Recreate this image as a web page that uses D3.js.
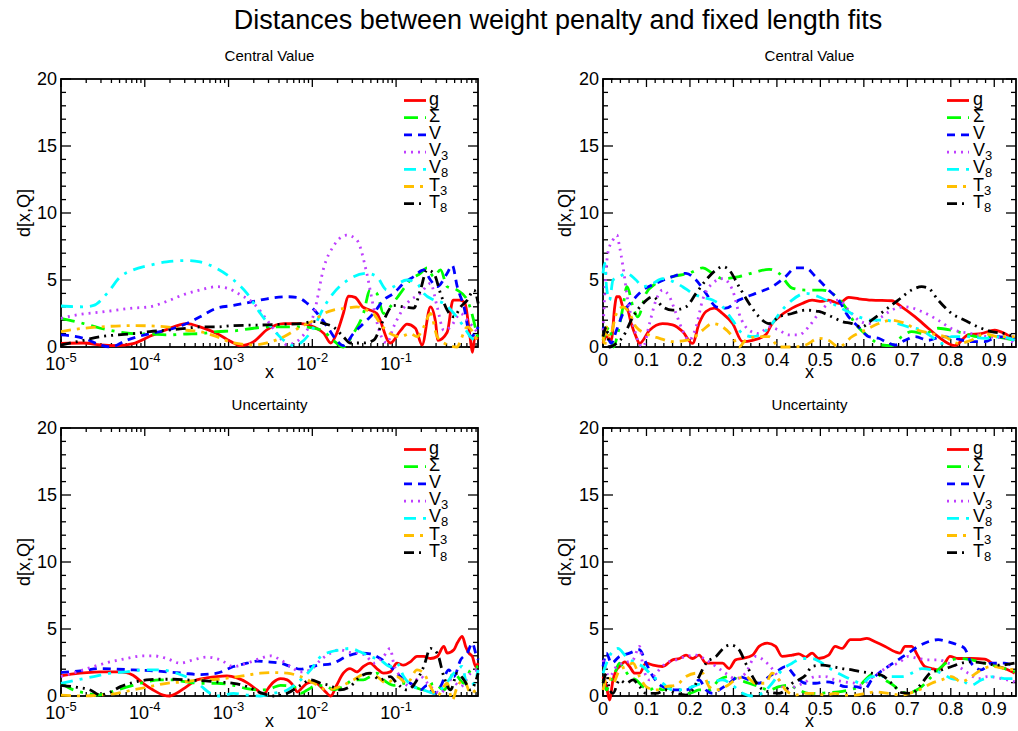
<!DOCTYPE html>
<html><head><meta charset="utf-8">
<script src="https://cdn.jsdelivr.net/npm/d3@7"></script>
<style>body{margin:0;background:#fff} text{font-family:"Liberation Sans",Arial,Helvetica,sans-serif;fill:#000}</style>
</head><body><svg id="c" width="1018" height="731"></svg>
<script>
// ---------------- DATA ----------------
const mainTitle = "Distances between weight penalty and fixed length fits";
const panelTitles = ["Central Value", "Central Value", "Uncertainty", "Uncertainty"];
const yTickValues = [0, 5, 10, 15, 20];
const yTickLabels = ["0", "5", "10", "15", "20"];
const logTickValues = [1e-5, 1e-4, 1e-3, 1e-2, 1e-1];
const logTickExps = ["-5", "-4", "-3", "-2", "-1"];
const linTickValues = [0, 0.1, 0.2, 0.3, 0.4, 0.5, 0.6, 0.7, 0.8, 0.9];
const linTickLabels = ["0", "0.1", "0.2", "0.3", "0.4", "0.5", "0.6", "0.7", "0.8", "0.9"];
const legendBase = ["g", "Σ", "V", "V", "V", "T", "T"];
const legendSub = ["", "", "", "3", "8", "3", "8"];
const seriesColors = ["#ff0000", "#00ff00", "#0000ff", "#bf3fff", "#00ffff", "#ffbf00", "#000000"];

// Central value, log x: [log10(x), d]
const cvLogG = [[-5,0.27],[-4.73,0.3],[-4.53,0.15],[-4.33,0.1],[-4.14,0.25],[-3.94,0.8],[-3.74,1.3],[-3.5,1.75],[-3.34,1.5],[-3.14,1.0],[-2.94,0.3],[-2.86,0.1],[-2.7,0.4],[-2.54,1.3],[-2.34,1.75],[-2.14,1.75],[-1.98,1.5],[-1.86,1.0],[-1.78,0.3],[-1.71,1.0],[-1.63,2.5],[-1.57,3.8],[-1.49,3.7],[-1.4,3.0],[-1.33,2.8],[-1.23,2.5],[-1.07,0.3],[-0.95,1.2],[-0.87,1.7],[-0.77,1.4],[-0.69,0.15],[-0.59,3.0],[-0.53,1.9],[-0.5,0.5],[-0.39,1.1],[-0.32,3.5],[-0.24,3.5],[-0.18,3.3],[-0.12,0.9],[-0.09,-0.4],[-0.06,0.7],[-0.02,0.6]];
const cvLogS = [[-5,2.14],[-4.73,1.75],[-4.53,1.4],[-4.33,1.15],[-4.14,1.0],[-3.94,0.97],[-3.74,0.9],[-3.5,0.97],[-3.34,1.0],[-3.14,1.15],[-2.94,1.2],[-2.7,1.4],[-2.54,1.5],[-2.14,1.5],[-1.98,1.4],[-1.86,1.15],[-1.75,0.5],[-1.63,0],[-1.51,1.0],[-1.39,2.5],[-1.31,4.25],[-1.23,4.0],[-1.15,2.5],[-1.07,3.0],[-0.95,4.0],[-0.83,5.0],[-0.71,5.5],[-0.63,5.9],[-0.55,5.25],[-0.47,5.75],[-0.39,4.5],[-0.27,4.25],[-0.15,3.5],[-0.02,0.5]];
const cvLogV = [[-5,0.9],[-4.73,0.65],[-4.53,0.15],[-4.41,0],[-4.22,0.5],[-3.94,1.0],[-3.74,1.25],[-3.5,1.75],[-3.34,2.25],[-3.14,2.9],[-2.94,3.1],[-2.7,3.4],[-2.54,3.6],[-2.3,3.75],[-2.18,3.7],[-2.06,3.25],[-1.94,2.5],[-1.82,1.5],[-1.71,0.5],[-1.63,0.1],[-1.51,1.0],[-1.39,1.75],[-1.27,2.5],[-1.15,3.5],[-1.03,4.0],[-0.91,4.75],[-0.79,5.25],[-0.67,5.75],[-0.59,5.0],[-0.51,4.5],[-0.39,5.5],[-0.33,6.1],[-0.27,4.5],[-0.19,3.0],[-0.11,0.75],[-0.02,1.5]];
const cvLogV3 = [[-5,2.14],[-4.81,2.4],[-4.53,2.6],[-4.14,2.9],[-3.94,3.0],[-3.74,3.4],[-3.54,3.9],[-3.34,4.25],[-3.14,4.5],[-3.02,4.4],[-2.86,3.9],[-2.7,3.25],[-2.54,2.0],[-2.42,1.0],[-2.3,0.15],[-2.22,0.3],[-2.14,0.65],[-1.98,2.5],[-1.86,6.0],[-1.75,7.5],[-1.59,8.35],[-1.47,8.0],[-1.35,5.5],[-1.27,3.0],[-1.19,1.0],[-1.11,0.3],[-1.03,1.5],[-0.95,2.5],[-0.87,3.25],[-0.71,4.0],[-0.59,4.75],[-0.51,3.0],[-0.43,1.25],[-0.35,1.5],[-0.23,2.5],[-0.15,2.0],[-0.02,1.0]];
const cvLogV8 = [[-5,3.06],[-4.73,3.0],[-4.61,3.1],[-4.45,4.0],[-4.29,5.25],[-4.14,5.75],[-3.94,6.1],[-3.74,6.35],[-3.5,6.45],[-3.34,6.35],[-3.14,5.85],[-2.94,5.0],[-2.78,4.0],[-2.62,2.5],[-2.46,1.25],[-2.34,0.5],[-2.22,0.1],[-2.14,0.3],[-1.98,1.5],[-1.86,3.0],[-1.75,4.0],[-1.55,5.1],[-1.35,5.5],[-1.23,5.25],[-1.11,4.25],[-1.03,4.5],[-0.87,5.0],[-0.75,4.75],[-0.67,4.0],[-0.55,3.5],[-0.43,3.25],[-0.31,2.5],[-0.19,1.5],[-0.11,0.75],[-0.02,0.4]];
const cvLogT3 = [[-5,1.15],[-4.73,1.4],[-4.53,1.5],[-4.14,1.6],[-3.74,1.5],[-3.5,1.25],[-3.34,1.15],[-3.14,0.77],[-2.94,0.3],[-2.7,0.15],[-2.54,0.3],[-2.34,0.77],[-2.14,1.5],[-1.98,2.0],[-1.86,2.5],[-1.75,2.75],[-1.59,2.9],[-1.47,3.0],[-1.35,2.75],[-1.27,2.5],[-1.19,1.75],[-1.07,1.0],[-0.95,0.77],[-0.83,1.0],[-0.75,0.77],[-0.67,1.5],[-0.59,2.5],[-0.51,0.77],[-0.43,0.3],[-0.27,0],[-0.23,0.5],[-0.15,1.5],[-0.02,0.3]];
const cvLogT8 = [[-5,0.15],[-4.73,0.5],[-4.53,0.77],[-4.33,0.9],[-4.14,1.0],[-3.94,1.15],[-3.74,1.25],[-3.5,1.4],[-3.34,1.5],[-3.14,1.5],[-2.94,1.6],[-2.54,1.65],[-2.34,1.7],[-2.14,1.75],[-1.98,1.9],[-1.86,1.75],[-1.75,1.5],[-1.63,0.77],[-1.55,0.3],[-1.39,0.3],[-1.27,0.5],[-1.15,2.0],[-1.03,3.1],[-0.91,3.0],[-0.79,2.9],[-0.71,4.25],[-0.63,5.75],[-0.55,5.5],[-0.47,4.0],[-0.39,2.75],[-0.31,2.25],[-0.23,3.0],[-0.15,3.5],[-0.07,4.25],[-0.02,3.25]];

// Central value, linear x: [x, d]
const cvLinG = [[0,0.27],[0.008,0.77],[0.019,0.5],[0.027,3.0],[0.031,3.75],[0.038,3.75],[0.046,3.0],[0.055,2.9],[0.065,1.75],[0.076,0.77],[0.084,0.27],[0.107,1.25],[0.137,1.75],[0.16,1.65],[0.183,1.15],[0.206,0.27],[0.221,1.75],[0.237,2.65],[0.256,2.9],[0.275,2.5],[0.298,1.75],[0.321,0.4],[0.344,0.5],[0.374,0.9],[0.389,1.75],[0.405,2.25],[0.435,2.9],[0.458,3.25],[0.481,3.5],[0.504,3.4],[0.519,3.5],[0.542,3.25],[0.565,3.7],[0.588,3.6],[0.618,3.5],[0.664,3.45],[0.687,3.0],[0.718,2.25],[0.748,1.4],[0.771,0.77],[0.809,0.1],[0.84,0.9],[0.87,1.0],[0.901,1.25],[0.924,1.0],[0.947,0.5]];
const cvLinS = [[0,0.5],[0.015,1.5],[0.024,0],[0.034,1.0],[0.046,3.0],[0.055,4.5],[0.069,3.0],[0.08,2.25],[0.099,4.0],[0.122,4.75],[0.16,5.25],[0.198,5.5],[0.229,5.9],[0.252,5.5],[0.275,5.1],[0.313,5.25],[0.351,5.6],[0.382,5.8],[0.405,5.5],[0.435,4.4],[0.466,4.25],[0.504,4.25],[0.527,4.0],[0.557,3.0],[0.58,1.75],[0.611,0.77],[0.641,0.15],[0.664,0.1],[0.687,0.77],[0.71,1.15],[0.74,1.0],[0.771,1.4],[0.802,1.25],[0.832,1.0],[0.863,0.77],[0.893,0.77],[0.947,0.5]];
const cvLinV = [[0,1.5],[0.008,1.0],[0.019,0.27],[0.031,1.25],[0.046,2.5],[0.069,3.5],[0.092,4.25],[0.122,4.75],[0.16,5.25],[0.191,5.5],[0.214,5.0],[0.237,4.0],[0.26,3.0],[0.282,2.9],[0.313,3.5],[0.351,4.0],[0.389,4.5],[0.42,5.25],[0.443,5.9],[0.466,5.9],[0.489,5.25],[0.519,4.25],[0.542,3.5],[0.565,2.25],[0.588,1.5],[0.611,0.77],[0.634,0.65],[0.656,0.3],[0.672,0.15],[0.695,0.5],[0.718,0.77],[0.748,0.5],[0.779,0.77],[0.809,0.65],[0.847,0.4],[0.878,0.4],[0.908,0.77],[0.947,0.65]];
const cvLinV3 = [[0,1.25],[0.004,4.0],[0.011,7.0],[0.023,8.0],[0.032,8.35],[0.038,7.5],[0.046,6.0],[0.057,3.5],[0.069,1.75],[0.08,0.5],[0.092,0],[0.107,1.75],[0.122,3.5],[0.137,4.25],[0.153,3.75],[0.168,2.5],[0.183,1.25],[0.198,0.5],[0.214,1.5],[0.229,3.5],[0.252,4.75],[0.275,5.1],[0.298,4.25],[0.313,2.5],[0.336,1.25],[0.359,1.0],[0.382,1.5],[0.405,1.25],[0.427,0.9],[0.45,0.9],[0.473,1.5],[0.496,2.5],[0.519,3.25],[0.542,3.5],[0.565,2.75],[0.588,2.0],[0.611,1.75],[0.641,2.25],[0.664,2.75],[0.695,3.0],[0.733,2.65],[0.771,2.0],[0.809,1.25],[0.847,1.0],[0.885,0.77],[0.924,0.65],[0.947,0.27]];
const cvLinV8 = [[0,5.5],[0.004,6.25],[0.008,4.5],[0.015,3.5],[0.023,5.0],[0.038,5.25],[0.053,5.5],[0.076,5.0],[0.092,4.5],[0.115,4.75],[0.137,5.1],[0.16,4.9],[0.183,4.5],[0.206,4.0],[0.229,3.7],[0.252,3.5],[0.275,3.0],[0.298,2.0],[0.321,1.0],[0.344,0.77],[0.366,1.0],[0.389,1.75],[0.412,2.75],[0.435,3.5],[0.466,4.0],[0.496,3.75],[0.527,3.25],[0.557,2.75],[0.588,2.25],[0.618,2.0],[0.649,2.0],[0.679,1.75],[0.702,1.5],[0.733,1.25],[0.756,0.77],[0.779,0.27],[0.802,0.77],[0.84,0.77],[0.878,0.65],[0.916,0.77],[0.947,0.5]];
const cvLinT3 = [[0,1.0],[0.004,0],[0.008,1.5],[0.015,0.77],[0.031,2.5],[0.046,3.0],[0.061,2.5],[0.076,1.5],[0.099,1.0],[0.13,0.65],[0.16,0.4],[0.191,0.5],[0.206,0.65],[0.229,1.25],[0.252,1.75],[0.275,1.5],[0.298,0.77],[0.313,0],[0.328,0.5],[0.359,0.77],[0.382,0.77],[0.405,0],[0.435,0],[0.466,0.15],[0.496,0.65],[0.519,0.5],[0.542,0],[0.573,0.77],[0.603,1.25],[0.634,1.75],[0.664,2.0],[0.695,1.75],[0.725,1.25],[0.756,1.0],[0.786,0.77],[0.817,0.27],[0.847,0.5],[0.878,1.0],[0.908,0.77],[0.947,0.77]];
const cvLinT8 = [[0,0.77],[0.008,1.5],[0.015,0],[0.031,0.27],[0.046,0.77],[0.069,2.25],[0.092,3.25],[0.115,3.75],[0.137,3.0],[0.16,2.75],[0.191,3.0],[0.214,4.0],[0.237,5.0],[0.26,5.75],[0.275,6.0],[0.29,5.75],[0.313,4.5],[0.336,3.25],[0.359,2.25],[0.382,1.75],[0.405,2.25],[0.435,2.5],[0.466,2.75],[0.496,2.65],[0.527,2.25],[0.55,1.9],[0.573,1.75],[0.595,1.5],[0.618,2.0],[0.649,2.75],[0.679,3.5],[0.71,4.25],[0.733,4.5],[0.748,4.4],[0.771,3.5],[0.802,2.5],[0.832,2.0],[0.863,1.5],[0.893,1.15],[0.924,1.0],[0.947,0.77]];

// Uncertainty, log x: [log10(x), d]
const unLogG = [[-5,1.5],[-4.85,1.65],[-4.69,1.75],[-4.53,1.8],[-4.33,1.8],[-4.22,1.75],[-4.14,1.55],[-4.02,0.95],[-3.9,0.45],[-3.78,0.07],[-3.7,0],[-3.62,0.2],[-3.5,0.7],[-3.38,1.2],[-3.26,1.35],[-3.14,1.45],[-3.02,1.5],[-2.9,1.35],[-2.78,1.0],[-2.66,0.45],[-2.58,0.07],[-2.54,0.45],[-2.46,1.05],[-2.38,1.3],[-2.3,1.2],[-2.22,0.7],[-2.18,0.3],[-2.14,0.5],[-2.06,0.95],[-1.98,1.05],[-1.9,0.7],[-1.84,0.3],[-1.78,0],[-1.71,0.8],[-1.63,1.7],[-1.55,2.05],[-1.47,1.8],[-1.39,2.2],[-1.31,2.45],[-1.23,2.05],[-1.15,1.7],[-1.07,1.8],[-0.99,2.45],[-0.91,2.3],[-0.83,2.55],[-0.75,2.95],[-0.67,2.95],[-0.59,2.8],[-0.51,2.95],[-0.43,3.7],[-0.39,3.2],[-0.31,3.45],[-0.27,3.95],[-0.21,4.45],[-0.17,3.7],[-0.13,3.2],[-0.09,2.95],[-0.05,2.2],[-0.02,2.45]];
const unLogS = [[-5,0.95],[-4.85,0.45],[-4.69,0.2],[-4.57,0.07],[-4.45,0.2],[-4.33,0.45],[-4.14,0.8],[-3.98,1.05],[-3.82,1.2],[-3.66,1.2],[-3.5,1.05],[-3.34,0.95],[-3.14,0.95],[-2.94,0.8],[-2.78,0.55],[-2.62,0.45],[-2.5,0.55],[-2.38,0.8],[-2.22,0.7],[-2.14,0.2],[-2.06,0.45],[-1.94,0.8],[-1.82,0.7],[-1.75,0.45],[-1.63,0.7],[-1.51,1.2],[-1.39,1.2],[-1.31,1.45],[-1.23,1.7],[-1.15,1.2],[-1.03,0.8],[-0.91,0.95],[-0.79,0.7],[-0.67,0.45],[-0.55,0.95],[-0.43,0.45],[-0.31,1.7],[-0.19,0.95],[-0.11,1.95],[-0.02,2.2]];
const unLogV = [[-5,1.75],[-4.73,1.9],[-4.53,2.05],[-4.33,2.0],[-4.14,1.95],[-3.94,1.9],[-3.74,1.8],[-3.54,1.7],[-3.34,1.6],[-3.14,1.7],[-2.94,2.2],[-2.78,2.45],[-2.66,2.6],[-2.54,2.55],[-2.38,2.45],[-2.26,2.2],[-2.14,2.0],[-2.02,2.2],[-1.9,2.3],[-1.75,2.45],[-1.59,2.95],[-1.43,3.2],[-1.31,3.15],[-1.19,2.8],[-1.11,2.45],[-1.03,1.95],[-0.95,1.45],[-0.83,0.95],[-0.71,0.45],[-0.63,0.8],[-0.55,0.2],[-0.47,0.7],[-0.37,1.95],[-0.31,1.45],[-0.23,2.7],[-0.15,3.2],[-0.09,3.95],[-0.05,3.2],[-0.02,2.7]];
const unLogV3 = [[-5,1.45],[-4.81,1.8],[-4.61,2.2],[-4.41,2.55],[-4.22,2.8],[-4.02,3.0],[-3.9,3.0],[-3.74,2.8],[-3.58,2.45],[-3.42,2.7],[-3.26,2.9],[-3.1,2.7],[-2.94,2.2],[-2.78,2.45],[-2.62,2.8],[-2.5,3.0],[-2.38,2.7],[-2.26,2.2],[-2.14,1.8],[-2.02,1.95],[-1.9,2.7],[-1.78,3.2],[-1.67,3.45],[-1.55,3.25],[-1.43,3.2],[-1.35,2.95],[-1.27,2.45],[-1.15,2.95],[-1.07,3.55],[-1.03,2.45],[-0.95,1.45],[-0.83,0.7],[-0.71,1.45],[-0.59,0.7],[-0.47,0.2],[-0.35,1.2],[-0.23,0.7],[-0.11,1.7],[-0.02,1.95]];
const unLogV8 = [[-5,0.95],[-4.81,1.2],[-4.61,1.45],[-4.41,1.7],[-4.22,1.8],[-4.02,1.95],[-3.82,1.95],[-3.62,1.7],[-3.46,1.3],[-3.34,0.8],[-3.22,0.2],[-3.1,0],[-2.94,0.2],[-2.78,0.07],[-2.62,0],[-2.46,0.2],[-2.3,0.45],[-2.14,1.2],[-2.02,1.95],[-1.9,2.95],[-1.78,3.3],[-1.67,3.45],[-1.55,3.55],[-1.43,3.3],[-1.31,2.95],[-1.19,2.7],[-1.07,2.2],[-0.99,2.45],[-0.91,1.45],[-0.79,0.7],[-0.67,0.45],[-0.55,0.2],[-0.43,0.7],[-0.31,1.7],[-0.21,2.2],[-0.15,0.7],[-0.07,0.95],[-0.02,1.95]];
const unLogT3 = [[-5,0.07],[-4.73,0],[-4.53,0.07],[-4.33,0.2],[-4.14,0.45],[-3.94,0.7],[-3.74,0.95],[-3.54,1.05],[-3.34,1.2],[-3.14,1.25],[-2.94,1.4],[-2.78,1.55],[-2.62,1.7],[-2.46,1.75],[-2.3,1.7],[-2.14,1.45],[-1.98,0.95],[-1.82,0.45],[-1.67,0.7],[-1.51,1.2],[-1.35,1.7],[-1.23,1.45],[-1.11,0.95],[-0.99,1.45],[-0.87,0.95],[-0.75,1.95],[-0.67,1.7],[-0.59,0.7],[-0.51,0],[-0.39,0.95],[-0.33,-0.3],[-0.27,0.7],[-0.19,1.2],[-0.11,0.2],[-0.02,0.7]];
const unLogT8 = [[-5,0.8],[-4.81,0.65],[-4.65,0.45],[-4.53,0.07],[-4.41,0.3],[-4.29,0.7],[-4.14,1.0],[-3.98,1.2],[-3.82,1.25],[-3.66,1.25],[-3.5,1.2],[-3.34,1.15],[-3.14,1.05],[-2.94,0.95],[-2.78,0.7],[-2.62,0.25],[-2.46,0],[-2.3,0.2],[-2.14,0.8],[-2.02,1.2],[-1.9,0.95],[-1.78,0.75],[-1.67,0.45],[-1.55,0.7],[-1.43,1.45],[-1.31,1.7],[-1.19,1.2],[-1.07,1.45],[-0.99,0.95],[-0.87,0.45],[-0.75,1.2],[-0.67,2.2],[-0.59,3.55],[-0.51,3.2],[-0.43,1.45],[-0.35,0.45],[-0.27,1.7],[-0.19,1.2],[-0.11,0.45],[-0.02,1.7]];

// Uncertainty, linear x: [x, d]
const unLinG = [[0,1.45],[0.008,0.7],[0.015,-0.3],[0.023,1.2],[0.031,1.95],[0.038,2.2],[0.05,2.55],[0.061,2.2],[0.073,1.7],[0.084,1.7],[0.099,2.45],[0.115,2.3],[0.137,2.2],[0.16,2.7],[0.176,2.8],[0.191,3.05],[0.206,2.8],[0.221,3.05],[0.237,2.45],[0.26,2.45],[0.275,2.45],[0.29,2.05],[0.305,2.7],[0.321,2.8],[0.344,3.05],[0.359,3.7],[0.378,3.95],[0.397,3.7],[0.412,2.95],[0.435,3.05],[0.45,3.15],[0.466,2.9],[0.481,3.2],[0.496,2.8],[0.519,3.05],[0.534,3.7],[0.55,3.55],[0.569,4.2],[0.588,4.2],[0.607,4.3],[0.626,4.05],[0.649,3.7],[0.672,3.3],[0.683,3.2],[0.695,3.7],[0.71,3.7],[0.725,2.95],[0.74,2.2],[0.756,2.05],[0.771,1.95],[0.786,2.45],[0.798,2.95],[0.817,2.8],[0.847,2.8],[0.878,2.75],[0.901,2.3],[0.924,2.05],[0.947,1.7]];
const unLinS = [[0,1.2],[0.008,0.45],[0.015,0.95],[0.027,1.7],[0.038,2.45],[0.05,1.95],[0.061,1.45],[0.076,1.2],[0.092,0.7],[0.107,0.45],[0.122,0.7],[0.137,0.45],[0.16,0.7],[0.176,0.45],[0.198,0.2],[0.221,0.45],[0.244,0.45],[0.267,1.2],[0.29,1.45],[0.313,1.2],[0.336,0.95],[0.359,0.7],[0.382,0.45],[0.405,0.7],[0.427,0.8],[0.45,0.45],[0.473,0.2],[0.496,0.2],[0.519,0.25],[0.542,0.3],[0.565,0.45],[0.588,0.7],[0.611,1.45],[0.626,1.7],[0.649,1.2],[0.672,0.7],[0.687,0.25],[0.71,0.3],[0.733,0.7],[0.756,1.45],[0.779,2.2],[0.802,2.7],[0.824,2.8],[0.847,2.7],[0.878,2.45],[0.908,2.2],[0.947,1.8]];
const unLinV = [[0,2.2],[0.008,3.2],[0.019,2.45],[0.038,2.95],[0.061,3.2],[0.084,3.45],[0.099,2.45],[0.115,1.45],[0.137,0.7],[0.168,0.45],[0.191,0.45],[0.206,0.7],[0.221,1.2],[0.237,0.45],[0.252,0.2],[0.267,0.45],[0.29,0.95],[0.313,1.45],[0.336,1.2],[0.359,0.95],[0.382,1.45],[0.405,1.95],[0.42,2.2],[0.443,1.45],[0.466,0.95],[0.489,0.95],[0.511,1.05],[0.534,0.95],[0.557,0.7],[0.58,0.7],[0.603,0.55],[0.618,1.2],[0.634,1.7],[0.656,2.2],[0.679,2.7],[0.702,3.2],[0.725,3.7],[0.748,4.05],[0.771,4.2],[0.794,4.05],[0.817,3.8],[0.832,3.55],[0.847,2.45],[0.87,1.95],[0.893,2.45],[0.924,2.45],[0.947,2.2]];
const unLinV3 = [[0,2.7],[0.015,1.45],[0.031,2.2],[0.046,2.45],[0.069,2.7],[0.084,3.7],[0.092,2.2],[0.107,1.2],[0.122,1.7],[0.145,2.45],[0.168,2.7],[0.191,2.95],[0.214,3.05],[0.237,2.7],[0.26,2.2],[0.282,1.7],[0.305,1.3],[0.328,1.7],[0.351,2.95],[0.374,2.55],[0.397,1.7],[0.42,0.45],[0.443,0.7],[0.466,1.05],[0.489,1.45],[0.511,1.45],[0.534,1.2],[0.557,1.05],[0.58,0.95],[0.595,0.8],[0.611,1.2],[0.634,1.7],[0.656,2.2],[0.679,2.45],[0.702,2.95],[0.725,2.8],[0.748,2.7],[0.771,2.7],[0.794,2.45],[0.817,2.2],[0.84,1.7],[0.863,1.3],[0.885,1.45],[0.916,1.3],[0.947,1.05]];
const unLinV8 = [[0,1.7],[0.008,2.45],[0.019,3.2],[0.034,3.55],[0.053,2.95],[0.076,2.45],[0.092,2.2],[0.115,1.45],[0.137,0.95],[0.16,0.45],[0.183,0.45],[0.206,0.7],[0.229,0.95],[0.252,1.05],[0.275,1.2],[0.298,0.8],[0.321,0.2],[0.344,0],[0.366,0.2],[0.389,0.95],[0.412,1.95],[0.435,2.45],[0.458,2.8],[0.481,2.8],[0.504,2.45],[0.527,1.95],[0.55,1.55],[0.573,1.2],[0.595,0.95],[0.618,1.45],[0.641,1.45],[0.664,1.45],[0.687,1.45],[0.71,1.7],[0.733,2.05],[0.756,1.95],[0.779,1.7],[0.802,1.3],[0.824,1.2],[0.847,0.8],[0.87,1.2],[0.901,1.45],[0.924,1.3],[0.947,1.3]];
const unLinT3 = [[0,0.45],[0.011,1.45],[0.023,0.95],[0.038,1.95],[0.053,2.2],[0.069,2.45],[0.084,1.45],[0.099,0.7],[0.122,0.45],[0.145,0.7],[0.168,0.8],[0.191,1.45],[0.214,1.7],[0.229,1.7],[0.244,0.7],[0.26,0.45],[0.282,0.7],[0.305,1.2],[0.328,1.45],[0.351,0.95],[0.374,0.95],[0.389,1.7],[0.405,1.2],[0.42,0.45],[0.443,0.07],[0.466,0.2],[0.489,0.2],[0.511,0.07],[0.534,0.2],[0.557,0.07],[0.58,0.07],[0.603,0.2],[0.626,0.3],[0.656,0.2],[0.687,0.07],[0.71,0.25],[0.733,0.55],[0.756,0.95],[0.779,1.2],[0.802,1.45],[0.824,1.05],[0.847,1.45],[0.87,1.95],[0.893,2.2],[0.924,2.05],[0.947,1.95]];
const unLinT8 = [[0,0.95],[0.008,1.7],[0.015,0.45],[0.023,0.2],[0.038,1.2],[0.053,0.95],[0.069,1.2],[0.084,0.7],[0.099,0.2],[0.122,0.2],[0.145,0.45],[0.168,0.2],[0.191,0.07],[0.206,0.45],[0.221,1.45],[0.237,2.45],[0.26,2.95],[0.282,3.7],[0.294,3.8],[0.313,3.45],[0.328,2.45],[0.344,1.45],[0.359,0.7],[0.382,0.3],[0.405,0.2],[0.42,0.45],[0.435,0.95],[0.45,1.2],[0.466,1.55],[0.481,2.2],[0.504,2.3],[0.527,2.2],[0.55,2.05],[0.573,1.95],[0.595,1.8],[0.618,1.7],[0.641,1.55],[0.664,0.95],[0.687,0.25],[0.71,0.2],[0.733,0.95],[0.756,1.8],[0.779,1.95],[0.802,2.2],[0.824,2.45],[0.847,2.55],[0.878,2.45],[0.908,2.3],[0.947,2.45]];

// ---------------- STYLE / LAYOUT ----------------
const seriesDash = [null, "14,7,3,7", "8,6", "2,5", "12,7,3,7", "10,6,3,6", "10,5,2,5,2,5"];
const FONT = '"Liberation Sans", Arial, Helvetica, sans-serif';
const panels = [
  {left: 61, right: 478, top: 79, bottom: 347, log: true, title: panelTitles[0], series: [cvLogG, cvLogS, cvLogV, cvLogV3, cvLogV8, cvLogT3, cvLogT8], ylabX: 30, legX: 404, legTx: 429},
  {left: 603, right: 1016, top: 79, bottom: 347, log: false, title: panelTitles[1], series: [cvLinG, cvLinS, cvLinV, cvLinV3, cvLinV8, cvLinT3, cvLinT8], ylabX: 571, legX: 947, legTx: 973},
  {left: 61, right: 478, top: 428, bottom: 696, log: true, title: panelTitles[2], series: [unLogG, unLogS, unLogV, unLogV3, unLogV8, unLogT3, unLogT8], ylabX: 30, legX: 404, legTx: 429},
  {left: 603, right: 1016, top: 428, bottom: 696, log: false, title: panelTitles[3], series: [unLinG, unLinS, unLinV, unLinV3, unLinV8, unLinT3, unLinT8], ylabX: 571, legX: 947, legTx: 973}
];

const svg = d3.select("#c");
svg.append("rect").attr("width", 1018).attr("height", 731).attr("fill", "#fff");

svg.append("text").attr("x", 558).attr("y", 29).attr("text-anchor", "middle")
  .style("font-size", "27px").text(mainTitle);

function drawPanel(p) {
  const g = svg.append("g");
  const x = p.log
    ? d3.scaleLog().domain([1e-5, 0.95]).range([p.left, p.right])
    : d3.scaleLinear().domain([0, 0.95]).range([p.left, p.right]);
  const y = d3.scaleLinear().domain([0, 20]).range([p.bottom, p.top]);

  // frame
  g.append("rect").attr("x", p.left).attr("y", p.top)
    .attr("width", p.right - p.left).attr("height", p.bottom - p.top)
    .attr("fill", "none").attr("stroke", "#000").attr("stroke-width", 1.8);

  const tk = g.append("g").attr("stroke", "#000").attr("stroke-width", 1.3);
  // y ticks
  const yMinor = d3.range(0, 21, 1);
  yMinor.forEach(v => {
    const major = v % 5 === 0;
    const L = major ? 10 : 5;
    tk.append("line").attr("x1", p.left).attr("x2", p.left + L).attr("y1", y(v)).attr("y2", y(v));
    tk.append("line").attr("x1", p.right).attr("x2", p.right - L).attr("y1", y(v)).attr("y2", y(v));
  });
  // x ticks
  let xMajor, xMinor;
  if (p.log) {
    xMajor = logTickValues;
    xMinor = [];
    for (let e = -5; e <= -1; e++) for (let k = 2; k <= 9; k++) {
      const v = k * Math.pow(10, e);
      if (v <= 0.95) xMinor.push(v);
    }
  } else {
    xMajor = linTickValues;
    xMinor = d3.range(0, 0.951, 0.02).filter(v => Math.abs(v * 10 - Math.round(v * 10)) > 1e-6);
  }
  xMajor.forEach(v => {
    tk.append("line").attr("x1", x(v)).attr("x2", x(v)).attr("y1", p.bottom).attr("y2", p.bottom - 8);
    tk.append("line").attr("x1", x(v)).attr("x2", x(v)).attr("y1", p.top).attr("y2", p.top + 8);
  });
  xMinor.forEach(v => {
    tk.append("line").attr("x1", x(v)).attr("x2", x(v)).attr("y1", p.bottom).attr("y2", p.bottom - 4);
    tk.append("line").attr("x1", x(v)).attr("x2", x(v)).attr("y1", p.top).attr("y2", p.top + 4);
  });

  // y tick labels
  yTickValues.forEach((v, i) => {
    g.append("text").attr("x", p.left - 4).attr("y", y(v)).attr("dy", "0.36em")
      .attr("text-anchor", "end").style("font-size", "18px").text(yTickLabels[i]);
  });
  // x tick labels
  if (p.log) {
    logTickValues.forEach((v, i) => {
      const t = g.append("text").attr("x", x(v)).attr("y", p.bottom + 23)
        .attr("text-anchor", "middle").style("font-size", "18px");
      t.append("tspan").text("10");
      t.append("tspan").attr("dy", -8).style("font-size", "13px").text(logTickExps[i]);
    });
  } else {
    linTickValues.forEach((v, i) => {
      g.append("text").attr("x", x(v)).attr("y", p.bottom + 18.5)
        .attr("text-anchor", "middle").style("font-size", "18px").text(linTickLabels[i]);
    });
  }
  // axis titles
  g.append("text").attr("x", (p.left + p.right) / 2).attr("y", p.bottom + 31)
    .attr("text-anchor", "middle").style("font-size", "18px").text("x");
  g.append("text").attr("transform", `translate(${p.ylabX},${(p.top + p.bottom) / 2}) rotate(-90)`)
    .attr("text-anchor", "middle").style("font-size", "18px").text("d[x,Q]");
  // panel title
  g.append("text").attr("x", (p.left + p.right) / 2).attr("y", p.top - 18)
    .attr("text-anchor", "middle").style("font-size", "15px").text(p.title);

  // series
  const line = d3.line()
    .x(d => x(p.log ? Math.pow(10, d[0]) : d[0]))
    .y(d => y(d[1]))
    .curve(d3.curveMonotoneX);
  p.series.forEach((data, i) => {
    g.append("path").attr("d", line(data)).attr("fill", "none")
      .attr("stroke", seriesColors[i]).attr("stroke-width", 2.8)
      .attr("stroke-dasharray", seriesDash[i]).attr("stroke-linejoin", "round");
  });

  // legend
  legendBase.forEach((b, i) => {
    const ly = p.top + 21.5 + i * 17.2;
    g.append("line").attr("x1", p.legX).attr("x2", p.legX + 22).attr("y1", ly).attr("y2", ly)
      .attr("stroke", seriesColors[i]).attr("stroke-width", 2.8).attr("stroke-dasharray", seriesDash[i]);
    const t = g.append("text").attr("x", p.legTx).attr("y", ly + 4).style("font-size", "18px");
    t.append("tspan").text(b);
    if (legendSub[i]) t.append("tspan").attr("dy", 4).style("font-size", "13px").text(legendSub[i]);
  });
}
panels.forEach(drawPanel);
</script></body></html>
